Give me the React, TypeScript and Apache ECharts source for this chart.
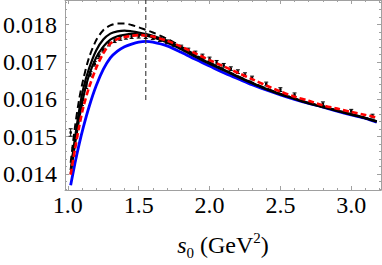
import React, { useEffect, useRef } from 'react';
import * as echarts from 'echarts';

const curveX = [1.02, 1.05, 1.08, 1.11, 1.15, 1.2, 1.25, 1.3, 1.35, 1.4, 1.45, 1.5, 1.55, 1.6, 1.7, 1.8, 1.9, 2.0, 2.1, 2.2, 2.3, 2.4, 2.5, 2.6, 2.7, 2.8, 2.9, 3.0, 3.1, 3.18];
const blueY = [0.01370, 0.01428, 0.01480, 0.01526, 0.01580, 0.01636, 0.01680, 0.01711, 0.01729, 0.01741, 0.01748, 0.01753, 0.01755, 0.01753, 0.01743, 0.01726, 0.01707, 0.01689, 0.01671, 0.01655, 0.01639, 0.01625, 0.01612, 0.01600, 0.01589, 0.01579, 0.01568, 0.01558, 0.01549, 0.01539];
const blackUpperY = [0.01410, 0.01495, 0.01570, 0.01630, 0.01683, 0.01731, 0.01760, 0.01776, 0.01782, 0.01784, 0.01782, 0.01779, 0.01775, 0.01770, 0.01756, 0.01737, 0.01716, 0.01697, 0.01679, 0.01661, 0.01644, 0.01628, 0.01614, 0.01602, 0.01590, 0.01580, 0.01570, 0.01560, 0.01550, 0.01541];
const blackLowerY = [0.01400, 0.01478, 0.01548, 0.01607, 0.01665, 0.01712, 0.01741, 0.01760, 0.01769, 0.01773, 0.01775, 0.01774, 0.01771, 0.01766, 0.01752, 0.01734, 0.01714, 0.01695, 0.01678, 0.01660, 0.01643, 0.01627, 0.01613, 0.01601, 0.01589, 0.01579, 0.01569, 0.01559, 0.01549, 0.01540];
const blackDashedY = [0.01430, 0.01525, 0.01600, 0.01655, 0.01712, 0.01758, 0.01785, 0.01798, 0.01803, 0.01803, 0.01799, 0.01793, 0.01786, 0.01779, 0.01762, 0.01741, 0.01719, 0.01699, 0.01680, 0.01662, 0.01645, 0.01629, 0.01615, 0.01602, 0.01590, 0.01580, 0.01570, 0.01560, 0.01550, 0.01541];
const redY = [0.01398, 0.01465, 0.01527, 0.01580, 0.01632, 0.01684, 0.01723, 0.01749, 0.01761, 0.01767, 0.01770, 0.01772, 0.01771, 0.01768, 0.01757, 0.01741, 0.01723, 0.01705, 0.01688, 0.01671, 0.01654, 0.01637, 0.01621, 0.01607, 0.01596, 0.01584, 0.01575, 0.01566, 0.01558, 0.01551];

const pointX = [1.02, 1.04, 1.06, 1.08, 1.10, 1.13, 1.16, 1.19, 1.22, 1.25, 1.29, 1.33, 1.37, 1.41, 1.45, 1.50, 1.55, 1.60, 1.65, 1.70, 1.75, 1.80, 1.85, 1.90, 1.95, 2.00, 2.05, 2.10, 2.15, 2.20, 2.25, 2.30, 2.40, 2.50, 2.60, 2.80, 3.00, 3.15];
const pointY = [0.01511, 0.01460, 0.01510, 0.01555, 0.01590, 0.01635, 0.01668, 0.01695, 0.01715, 0.01732, 0.01748, 0.01757, 0.01763, 0.01766, 0.01768, 0.01769, 0.01768, 0.01765, 0.01760, 0.01754, 0.01747, 0.01740, 0.01732, 0.01724, 0.01716, 0.01708, 0.01699, 0.01691, 0.01682, 0.01674, 0.01666, 0.01657, 0.01641, 0.01626, 0.01612, 0.01588, 0.01568, 0.01555];
const pointErr = [0.00010, 0.00010, 0.00009, 0.00008, 0.00007, 0.00006, 0.00006, 0.00006, 0.00006, 0.00005, 0.00005, 0.00005, 0.00005, 0.00005, 0.00005, 0.00005, 0.00005, 0.00005, 0.00005, 0.00005, 0.00005, 0.00005, 0.00005, 0.00005, 0.00005, 0.00005, 0.00005, 0.00005, 0.00005, 0.00005, 0.00005, 0.00005, 0.00005, 0.00005, 0.00005, 0.00005, 0.00005, 0.00005];

const markerX = [1.55, 1.55];
const markerY = [0.01598, 0.01866];

const xMajorTicks = [1.0, 1.5, 2.0, 2.5, 3.0];
const xMinorTicks = [1.0, 1.1, 1.2, 1.3, 1.4, 1.5, 1.6, 1.7, 1.8, 1.9, 2.0, 2.1, 2.2, 2.3, 2.4, 2.5, 2.6, 2.7, 2.8, 2.9, 3.0, 3.1, 3.2];
const yMajorTicks = [0.014, 0.015, 0.016, 0.017, 0.018];
const yMinorTicks = [0.0136, 0.0138, 0.0140, 0.0142, 0.0144, 0.0146, 0.0148, 0.0150, 0.0152, 0.0154, 0.0156, 0.0158, 0.0160, 0.0162, 0.0164, 0.0166, 0.0168, 0.0170, 0.0172, 0.0174, 0.0176, 0.0178, 0.0180, 0.0182, 0.0184, 0.0186];

const X_MIN = 0.98, X_MAX = 3.21, Y_MIN = 0.01357, Y_MAX = 0.01866;

const FRAME = '#a0a0a0';
const FONT = 'Liberation Serif';

function pairs(xs: number[], ys: number[]) {
  return xs.map((x, i) => [x, ys[i]]);
}

export default function App() {
  const ref = useRef<HTMLDivElement>(null);
  useEffect(() => {
    document.body.style.margin = '0';
    const chart = echarts.init(ref.current!, null, { renderer: 'svg' });
    const tickAxis = (min: number, max: number, position: string, ticks: number[], len: number, showLine: boolean) => ({
      type: 'value',
      min, max, position,
      axisLine: { show: showLine, onZero: false, lineStyle: { color: FRAME, width: 1 } },
      axisTick: { show: true, inside: true, length: len, customValues: ticks, lineStyle: { color: FRAME } },
      axisLabel: { show: false },
      splitLine: { show: false },
    });
    const lineSeries = (data: number[], color: string, width: number, type: any, z: number) => ({
      type: 'line',
      data: pairs(curveX, data),
      showSymbol: false,
      smooth: 0.3,
      lineStyle: { color, width, type },
      z,
    });
    const xMain: any = tickAxis(X_MIN, X_MAX, 'bottom', xMajorTicks, 4, true);
    xMain.axisLabel = {
      show: true, customValues: xMajorTicks, formatter: (v: number) => v.toFixed(1),
      color: '#000', fontFamily: FONT, fontSize: 24, margin: 3,
    };
    xMain.name = '{i|s}{sub|0}{n| (GeV}{sup|2}{n|)}';
    xMain.nameLocation = 'middle';
    xMain.nameGap = 40;
    xMain.nameTextStyle = {
      color: '#000', fontFamily: FONT, fontSize: 24,
      rich: {
        i: { fontFamily: FONT, fontSize: 24, fontStyle: 'italic', lineHeight: 30, verticalAlign: 'middle', color: '#000' },
        n: { fontFamily: FONT, fontSize: 24, lineHeight: 30, verticalAlign: 'middle', color: '#000' },
        sub: { fontFamily: FONT, fontSize: 15, lineHeight: 17, verticalAlign: 'bottom', color: '#000' },
        sup: { fontFamily: FONT, fontSize: 15, lineHeight: 7, verticalAlign: 'top', color: '#000' },
      },
    };
    const yMain: any = tickAxis(Y_MIN, Y_MAX, 'left', yMajorTicks, 4, true);
    yMain.axisLabel = {
      show: true, customValues: yMajorTicks, formatter: (v: number) => v.toFixed(3),
      color: '#000', fontFamily: FONT, fontSize: 24, margin: 8,
    };
    const option: any = {
      animation: false,
      grid: { left: 61, right: 1, top: 0, bottom: 69 },
      xAxis: [
        xMain,
        tickAxis(X_MIN, X_MAX, 'bottom', xMinorTicks, 2, false),
        tickAxis(X_MIN, X_MAX, 'top', xMajorTicks, 4, true),
        tickAxis(X_MIN, X_MAX, 'top', xMinorTicks, 2, false),
      ],
      yAxis: [
        yMain,
        tickAxis(Y_MIN, Y_MAX, 'left', yMinorTicks, 2, false),
        tickAxis(Y_MIN, Y_MAX, 'right', yMajorTicks, 4, true),
        tickAxis(Y_MIN, Y_MAX, 'right', yMinorTicks, 2, false),
      ],
      series: [
        lineSeries(blueY, '#0000ff', 2.8, 'solid', 2),
        lineSeries(blackLowerY, '#000000', 2.2, 'solid', 3),
        lineSeries(blackUpperY, '#000000', 2.2, 'solid', 3),
        lineSeries(blackDashedY, '#000000', 2, [7, 4], 3),
        {
          type: 'custom',
          z: 4,
          data: pointX.map((x, i) => [x, pointY[i], pointErr[i]]),
          renderItem: (params: any, api: any) => {
            const x = api.value(0), y = api.value(1), e = api.value(2);
            const c = api.coord([x, y]);
            const hi = api.coord([x, y + e]);
            const lo = api.coord([x, y - e]);
            const st = { stroke: '#000', lineWidth: 1 };
            return {
              type: 'group',
              children: [
                { type: 'line', shape: { x1: c[0], y1: hi[1], x2: c[0], y2: lo[1] }, style: st },
                { type: 'line', shape: { x1: c[0] - 2, y1: hi[1], x2: c[0] + 2, y2: hi[1] }, style: st },
                { type: 'line', shape: { x1: c[0] - 2, y1: lo[1], x2: c[0] + 2, y2: lo[1] }, style: st },
                { type: 'rect', shape: { x: c[0] - 1.2, y: c[1] - 1.2, width: 2.4, height: 2.4 }, style: { fill: '#000' } },
              ],
            };
          },
        },
        lineSeries(redY, '#ff0000', 2.6, [6, 3], 5),
        {
          type: 'line',
          data: pairs(markerX, markerY),
          showSymbol: false,
          lineStyle: { color: '#444', width: 1.2, type: [5, 3] },
          z: 6,
        },
      ],
    };
    chart.setOption(option);
    return () => chart.dispose();
  }, []);
  return <div ref={ref} style={{ width: 382, height: 265 }} />;
}
